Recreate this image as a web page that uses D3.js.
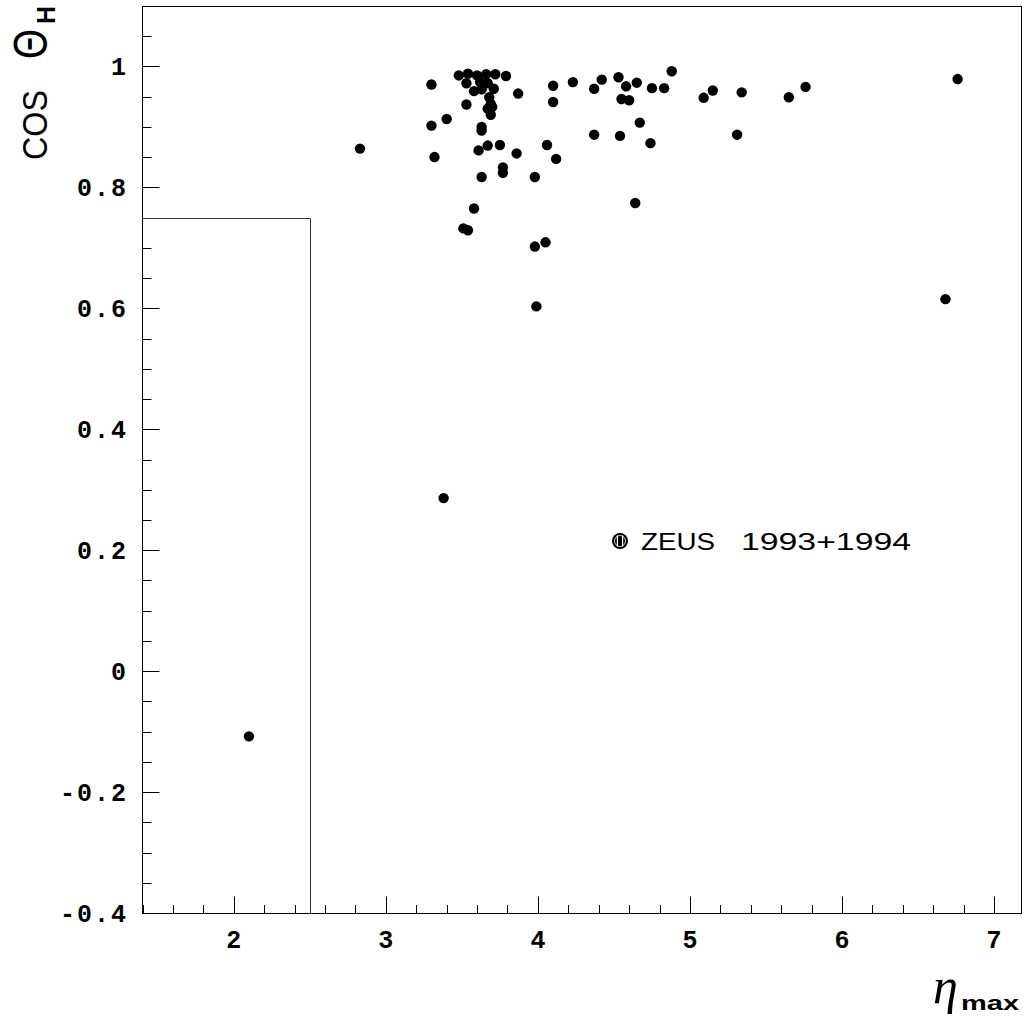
<!DOCTYPE html>
<html>
<head>
<meta charset="utf-8">
<script src="https://cdn.jsdelivr.net/npm/d3@7"></script>
<style>
  html, body { margin: 0; padding: 0; background: #fff; }
  svg { display: block; }
</style>
</head>
<body>
<div id="chart"></div>
<script>
// eta_max of each event
const etaMax = [
  2.10, 2.83, 3.30, 3.30, 3.32, 3.40, 3.38, 3.51, 3.54, 3.58,
  3.48, 3.54, 3.60, 3.66, 3.72, 3.79, 3.53, 3.58, 3.63, 3.62,
  3.67, 3.71, 3.68, 3.69, 3.67, 3.70, 3.69, 3.53, 3.63, 3.63,
  3.61, 3.67, 3.75, 3.86, 4.06, 4.12, 3.77, 3.77, 3.63, 3.98,
  3.98, 4.05, 3.99, 3.87, 4.10, 4.10, 4.23, 4.37, 4.42, 4.53,
  4.58, 4.65, 4.55, 4.60, 4.75, 4.83, 4.88, 4.67, 4.37, 4.54,
  4.74, 4.64, 5.09, 5.15, 5.34, 5.31, 5.65, 5.76, 6.76, 6.68
];
// cos theta_H of each event
const cosThetaH = [
  -0.107, 0.865, 0.971, 0.903, 0.851, 0.914, 0.287, 0.733, 0.730, 0.766,
  0.986, 0.989, 0.986, 0.988, 0.988, 0.985, 0.973, 0.960, 0.963, 0.975,
  0.973, 0.964, 0.950, 0.939, 0.931, 0.934, 0.921, 0.938, 0.901, 0.895,
  0.862, 0.870, 0.871, 0.857, 0.871, 0.848, 0.834, 0.825, 0.818, 0.818,
  0.703, 0.710, 0.604, 0.956, 0.969, 0.942, 0.975, 0.964, 0.979, 0.983,
  0.968, 0.974, 0.947, 0.945, 0.965, 0.965, 0.993, 0.908, 0.888, 0.886,
  0.874, 0.775, 0.949, 0.961, 0.958, 0.888, 0.950, 0.967, 0.980, 0.616
];
const xMajorTicks = [2, 3, 4, 5, 6, 7];
const yMajorTicks = [-0.4, -0.2, 0, 0.2, 0.4, 0.6, 0.8, 1];
const yTickLabels = ["-0.4", "-0.2", "0", "0.2", "0.4", "0.6", "0.8", "1"];
// cut region (lower-left box)
const cutEta = 2.5;
const cutCos = 0.75;
const legendLabel = ["ZEUS", "1993+1994"];

const width = 1026, height = 1021;
const svg = d3.select("#chart").append("svg")
  .attr("width", width).attr("height", height);

const x = d3.scaleLinear().domain([1.4, 7.18]).range([142.5, 1021.5]);
const y = d3.scaleLinear().domain([-0.4, 1.1]).range([913.5, 6.5]);

// frame
svg.append("rect")
  .attr("x", x.range()[0]).attr("y", y.range()[1])
  .attr("width", x.range()[1] - x.range()[0])
  .attr("height", y.range()[0] - y.range()[1])
  .attr("fill", "none").attr("stroke", "#000").attr("stroke-width", 1);

// x ticks (pointing up into plot)
const xMinor = d3.range(1.4, 7.19, 0.2).map(v => +v.toFixed(2));
svg.append("g").selectAll("line").data(xMinor).join("line")
  .attr("x1", d => Math.round(x(d)) + 0.5).attr("x2", d => Math.round(x(d)) + 0.5)
  .attr("y1", y.range()[0])
  .attr("y2", d => y.range()[0] - (xMajorTicks.some(t => Math.abs(t - d) < 1e-6) ? 17 : 8.5))
  .attr("stroke", "#000").attr("stroke-width", 1);

svg.append("g").selectAll("text").data(xMajorTicks).join("text")
  .attr("x", d => x(d)).attr("y", 948)
  .attr("text-anchor", "middle")
  .attr("font-family", "'Liberation Mono', 'Courier New', monospace")
  .attr("font-weight", "bold").attr("font-size", 25)
  .text(d => d);

// y ticks (pointing right into plot)
const yMinor = d3.range(-0.4, 1.1001, 0.05).map(v => +v.toFixed(2));
svg.append("g").selectAll("line").data(yMinor).join("line")
  .attr("y1", d => Math.round(y(d) - 0.5) + 0.5).attr("y2", d => Math.round(y(d) - 0.5) + 0.5)
  .attr("x1", x.range()[0])
  .attr("x2", d => x.range()[0] + (yMajorTicks.some(t => Math.abs(t - d) < 1e-6) ? 17 : 9))
  .attr("stroke", "#000").attr("stroke-width", 1);

svg.append("g").selectAll("text").data(yMajorTicks).join("text")
  .attr("x", 128).attr("y", d => y(d)).attr("dy", "0.34em")
  .attr("text-anchor", "end")
  .attr("font-family", "'Liberation Mono', 'Courier New', monospace")
  .attr("font-weight", "bold").attr("font-size", 25)
  .attr("letter-spacing", 2)
  .text((d, i) => yTickLabels[i]);

// cut box
svg.append("path")
  .attr("d", `M${x.range()[0]},${Math.round(y(cutCos)) + 0.5}H${Math.round(x(cutEta)) + 0.5}V${y.range()[0]}`)
  .attr("fill", "none").attr("stroke", "#333").attr("stroke-width", 1);

// points
const pts = etaMax.map((v, i) => ({ eta: v, c: cosThetaH[i] }));
svg.append("g").selectAll("circle").data(pts).join("circle")
  .attr("cx", d => x(d.eta)).attr("cy", d => y(d.c))
  .attr("r", 5.2).attr("fill", "#000");

// legend
const lg = svg.append("g").attr("transform", "translate(620,541)");
lg.append("circle").attr("r", 8).attr("fill", "#000");
[-2.6, 2.6].forEach(dx => {
  lg.append("line").attr("x1", dx).attr("x2", dx).attr("y1", -5.5).attr("y2", 5.5)
    .attr("stroke", "#fff").attr("stroke-width", 1.2);
});
lg.append("circle").attr("r", 5.5).attr("fill", "none")
  .attr("stroke", "#fff").attr("stroke-width", 0.8);
svg.append("text").attr("x", 641).attr("y", 550)
  .attr("font-family", "'Liberation Sans', Arial, sans-serif").attr("font-size", 24)
  .attr("textLength", 74).attr("lengthAdjust", "spacingAndGlyphs")
  .text(legendLabel[0]);
svg.append("text").attr("x", 741).attr("y", 550)
  .attr("font-family", "'Liberation Sans', Arial, sans-serif").attr("font-size", 24)
  .attr("textLength", 170).attr("lengthAdjust", "spacingAndGlyphs")
  .text(legendLabel[1]);

// y axis title
const yt = svg.append("g").attr("transform", "translate(47,160) rotate(-90)");
yt.append("text").attr("x", 0).attr("y", 0)
  .attr("font-family", "'Liberation Sans', Arial, sans-serif").attr("font-size", 35)
  .attr("textLength", 70).attr("lengthAdjust", "spacingAndGlyphs")
  .text("COS");
yt.append("text").attr("x", 101).attr("y", 0)
  .attr("font-family", "'Liberation Sans', Arial, sans-serif").attr("font-size", 48)
  .attr("textLength", 30).attr("lengthAdjust", "spacingAndGlyphs")
  .text("Θ");
yt.append("text").attr("x", 136).attr("y", 8)
  .attr("font-family", "'Liberation Sans', Arial, sans-serif").attr("font-size", 25)
  .attr("font-weight", "bold")
  .text("H");

// x axis title
svg.append("text").attr("x", 933).attr("y", 1003)
  .attr("font-family", "'Liberation Serif', 'Times New Roman', serif")
  .attr("font-style", "italic").attr("font-size", 50)
  .text("η");
svg.append("text").attr("x", 961).attr("y", 1010)
  .attr("font-family", "'Liberation Sans', Arial, sans-serif")
  .attr("font-weight", "bold").attr("font-size", 20)
  .attr("textLength", 58).attr("lengthAdjust", "spacingAndGlyphs")
  .text("max");
</script>
</body>
</html>
